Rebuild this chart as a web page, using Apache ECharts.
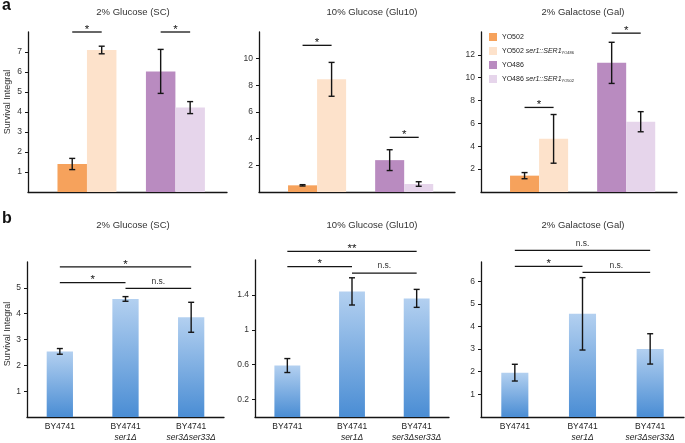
<!DOCTYPE html>
<html><head><meta charset="utf-8">
<script src="https://cdn.jsdelivr.net/npm/echarts@6/dist/echarts.min.js"></script>
<style>html,body{margin:0;padding:0;background:#fff}#c{width:685px;height:443px}</style>
</head><body><div id="c"></div>
<script>
// ---------- data ----------
const mediaTitles = ['2% Glucose (SC)', '10% Glucose (Glu10)', '2% Galactose (Gal)'];

// panel a: strains
const strainsA = ['YO502', 'YO502 ser1::SER1YO486', 'YO486', 'YO486 ser1::SER1YO502'];
const aSC      = [1.40, 7.10, 6.03, 4.22];
const aSCErr   = [0.28, 0.19, 1.10, 0.30];
const aGlu10   = [0.50, 8.45, 2.39, 0.60];
const aGlu10Err= [0.05, 1.27, 0.78, 0.17];
const aGal     = [1.43, 4.65, 11.30, 6.15];
const aGalErr  = [0.27, 2.13, 1.80, 0.88];
const aMax     = [8, 12, 14];
const aTicksSC    = [1, 2, 3, 4, 5, 6, 7];
const aTicksGlu10 = [2, 4, 6, 8, 10];
const aTicksGal   = [2, 4, 6, 8, 10, 12];
// significance: [from bar, to bar, height, label]
const aSigSC    = [[0, 1, 8.0, '*'], [2, 3, 8.0, '*']];
const aSigGlu10 = [[0, 1, 11.0, '*'], [2, 3, 4.1, '*']];
const aSigGal   = [[0, 1, 7.4, '*'], [2, 3, 13.9, '*']];

// panel b: strains
const strainsB = ['BY4741', 'BY4741 ser1Δ', 'BY4741 ser3Δser33Δ'];
const bSC       = [2.54, 4.57, 3.86];
const bSCErr    = [0.11, 0.09, 0.58];
const bGlu10    = [0.59, 1.44, 1.36];
const bGlu10Err = [0.08, 0.156, 0.103];
const bGal      = [1.96, 4.56, 3.01];
const bGalErr   = [0.37, 1.60, 0.67];
const bMax      = [6, 1.8, 6.85];
const bTicksSC    = [1, 2, 3, 4, 5];
const bTicksGlu10 = [0.2, 0.6, 1, 1.4];
const bTicksGal   = [1, 2, 3, 4, 5, 6];
const bSigSC    = [[0, 2, 5.81, '*'], [0, 1, 5.2, '*'], [1, 2, 4.98, 'n.s.']];
const bSigGlu10 = [[0, 2, 1.9, '**'], [0, 1, 1.724, '*'], [1, 2, 1.65, 'n.s.']];
const bSigGal   = [[0, 2, 7.36, 'n.s.'], [0, 1, 6.66, '*'], [1, 2, 6.39, 'n.s.']];

// ---------- styles / layout ----------
const FONT = '"Liberation Sans", Arial, Helvetica, sans-serif';
const INK = '#151515';
const colorsA = ['#f6a25c', '#fde2cb', '#b98bc0', '#e6d5eb'];
const blueGrad = new echarts.graphic.LinearGradient(0, 0, 0, 1, [
  {offset: 0, color: '#b3d0f0'}, {offset: 1, color: '#4a8dd4'}]);
const gridsA = [
  {left: 28, top: 32, width: 199, height: 160},
  {left: 259, top: 32, width: 196, height: 160},
  {left: 481, top: 32, width: 196, height: 160}];
const gridsB = [
  {left: 27, top: 262, width: 197, height: 159},
  {left: 255, top: 260, width: 194, height: 160},
  {left: 481, top: 262, width: 203, height: 158}];
const titleCX = [133, 372, 583];

const valsA = [aSC, aGlu10, aGal], errsA = [aSCErr, aGlu10Err, aGalErr];
const ticksA = [aTicksSC, aTicksGlu10, aTicksGal], sigsA = [aSigSC, aSigGlu10, aSigGal];
const valsB = [bSC, bGlu10, bGal], errsB = [bSCErr, bGlu10Err, bGalErr];
const ticksB = [bTicksSC, bTicksGlu10, bTicksGal], sigsB = [bSigSC, bSigGlu10, bSigGal];

const barX = k => 1.5 + 3 * Math.floor(k / 2) + (k % 2);
const catX = k => k;

function barRect(params, api) {
  const x = api.value(0), y = api.value(1);
  const p0 = api.coord([x - 0.5, y]);
  const p1 = api.coord([x + 0.5, 0]);
  return {type: 'rect', shape: {x: p0[0], y: p0[1], width: p1[0] - p0[0], height: p1[1] - p0[1]},
    style: api.style()};
}
function errRender(params, api) {
  const x = api.value(0), v = api.value(1), e = api.value(2);
  const t = api.coord([x, v + e]), b = api.coord([x, v - e]);
  const c = 3, st = {stroke: INK, lineWidth: 1.4};
  return {type: 'group', children: [
    {type: 'line', shape: {x1: t[0], y1: t[1], x2: b[0], y2: b[1]}, style: st},
    {type: 'line', shape: {x1: t[0] - c, y1: t[1], x2: t[0] + c, y2: t[1]}, style: st},
    {type: 'line', shape: {x1: b[0] - c, y1: b[1], x2: b[0] + c, y2: b[1]}, style: st}]};
}
function sigRender(sig, xOf) {
  return function (params, api) {
    const s = sig[params.dataIndex];
    const p1 = api.coord([xOf(s[0]), s[2]]), p2 = api.coord([xOf(s[1]), s[2]]);
    const isNS = s[3] === 'n.s.';
    return {type: 'group', children: [
      {type: 'line', shape: {x1: p1[0], y1: p1[1], x2: p2[0], y2: p2[1]}, style: {stroke: INK, lineWidth: 1.3}},
      {type: 'text', x: (p1[0] + p2[0]) / 2, y: p1[1] - (isNS ? 7 : 2.5),
        style: {text: s[3], fontSize: isNS ? 8.5 : 11.5, fontFamily: FONT, fill: isNS ? '#333' : INK,
          align: 'center', verticalAlign: 'middle'}}]};
  };
}

const grid = [], xAxis = [], yAxis = [], series = [];
const yAxisBase = (max, ticks) => ({
  type: 'value', min: 0, max: max,
  axisLine: {show: true, lineStyle: {color: INK, width: 1.3}},
  axisTick: {show: true, length: 3, customValues: ticks, lineStyle: {color: INK, width: 1}},
  axisLabel: {customValues: ticks, fontSize: 8.5, color: '#333', fontFamily: FONT, margin: 6},
  splitLine: {show: false}
});

for (let p = 0; p < 3; p++) {
  grid.push(gridsA[p]);
  xAxis.push({gridIndex: p, type: 'value', min: 0, max: 6.75,
    axisLine: {show: true, onZero: false, lineStyle: {color: INK, width: 1.3}},
    axisTick: {show: false}, axisLabel: {show: false}, splitLine: {show: false}});
  yAxis.push(Object.assign({gridIndex: p}, yAxisBase(aMax[p], ticksA[p])));
  for (let k = 0; k < 4; k++) {
    series.push({type: 'custom', name: strainsA[k], xAxisIndex: p, yAxisIndex: p,
      itemStyle: {color: colorsA[k]}, renderItem: barRect, clip: false,
      data: [[barX(k), valsA[p][k]]], z: 2});
  }
  series.push({type: 'custom', name: 'errA' + p, xAxisIndex: p, yAxisIndex: p, z: 5, clip: false,
    renderItem: errRender, data: valsA[p].map((v, k) => [barX(k), v, errsA[p][k]])});
  series.push({type: 'custom', name: 'sigA' + p, xAxisIndex: p, yAxisIndex: p, z: 5, clip: false,
    renderItem: sigRender(sigsA[p], barX), data: sigsA[p].map(s => [barX(s[0]), s[2]])});
}
for (let p = 0; p < 3; p++) {
  const gi = 3 + p;
  grid.push(gridsB[p]);
  xAxis.push({gridIndex: gi, type: 'category', data: strainsB,
    axisLine: {show: true, lineStyle: {color: INK, width: 1.3}},
    axisTick: {show: false},
    axisLabel: {fontSize: 8.5, color: '#222', fontFamily: FONT, margin: 4, lineHeight: 11, interval: 0,
      formatter: v => { const parts = v.split(' '); return parts.length > 1 ? parts[0] + '\n{i|' + parts.slice(1).join(' ') + '}' : v; },
      rich: {i: {fontStyle: 'italic', fontSize: 8.5, color: '#222', fontFamily: FONT, lineHeight: 11}}},
    splitLine: {show: false}});
  yAxis.push(Object.assign({gridIndex: gi}, yAxisBase(bMax[p], ticksB[p])));
  series.push({type: 'bar', name: 'b' + p, xAxisIndex: gi, yAxisIndex: gi, barWidth: '40%',
    itemStyle: {color: blueGrad}, data: valsB[p], z: 2});
  series.push({type: 'custom', name: 'errB' + p, xAxisIndex: gi, yAxisIndex: gi, z: 5, clip: false,
    renderItem: errRender, data: valsB[p].map((v, k) => [k, v, errsB[p][k]])});
  series.push({type: 'custom', name: 'sigB' + p, xAxisIndex: gi, yAxisIndex: gi, z: 5, clip: false,
    renderItem: sigRender(sigsB[p], catX), data: sigsB[p].map(s => [s[0], s[2]])});
}

const graphic = [];
for (let p = 0; p < 3; p++) {
  graphic.push({type: 'text', x: titleCX[p], y: 12, style: {text: mediaTitles[p], fontSize: 9.5,
    fontFamily: FONT, fill: '#333', align: 'center', verticalAlign: 'middle'}});
  graphic.push({type: 'text', x: titleCX[p], y: 225, style: {text: mediaTitles[p], fontSize: 9.5,
    fontFamily: FONT, fill: '#333', align: 'center', verticalAlign: 'middle'}});
}
graphic.push({type: 'text', x: 2, y: 6, style: {text: 'a', fontSize: 16, fontWeight: 'bold', fontFamily: FONT, fill: '#111', align: 'left', verticalAlign: 'middle'}});
graphic.push({type: 'text', x: 2, y: 219, style: {text: 'b', fontSize: 16, fontWeight: 'bold', fontFamily: FONT, fill: '#111', align: 'left', verticalAlign: 'middle'}});
graphic.push({type: 'text', x: 8, y: 102, rotation: Math.PI / 2, style: {text: 'Survival Integral', fontSize: 9, fontFamily: FONT, fill: '#333', align: 'center', verticalAlign: 'middle'}});
graphic.push({type: 'text', x: 8, y: 334, rotation: Math.PI / 2, style: {text: 'Survival Integral', fontSize: 9, fontFamily: FONT, fill: '#333', align: 'center', verticalAlign: 'middle'}});

const option = {
  animation: false,
  backgroundColor: '#fff',
  grid, xAxis, yAxis, series, graphic,
  legend: {
    orient: 'vertical', left: 489, top: 33, itemWidth: 8, itemHeight: 8, itemGap: 6, icon: 'rect',
    selectedMode: false, data: strainsA, padding: 0,
    formatter: name => {
      const m = name.match(/^(\S+) (ser1::SER1)(\S+)$/);
      return m ? '{n|' + m[1] + ' }{i|' + m[2] + '}{s|' + m[3] + '}' : '{n|' + name + '}';
    },
    textStyle: {fontSize: 7, color: '#222', fontFamily: FONT,
      rich: {n: {fontSize: 7, color: '#222', fontFamily: FONT},
        i: {fontSize: 7, fontStyle: 'italic', color: '#222', fontFamily: FONT},
        s: {fontSize: 4, color: '#222', fontFamily: FONT, verticalAlign: 'bottom', padding: [3, 0, 0, 0]}}}
  }
};
const chart = echarts.init(document.getElementById('c'), null, {renderer: 'canvas'});
chart.setOption(option);
</script></body></html>
